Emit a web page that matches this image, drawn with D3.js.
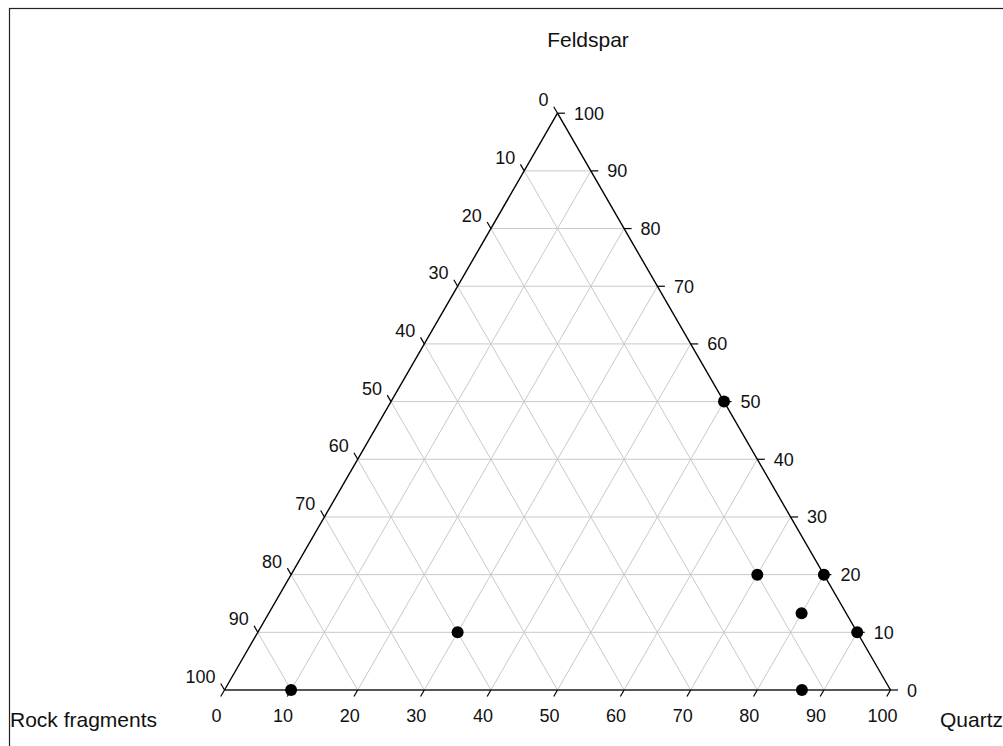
<!DOCTYPE html>
<html>
<head>
<meta charset="utf-8">
<script src="https://cdn.jsdelivr.net/npm/d3@7"></script>
<style>
  html, body { margin: 0; padding: 0; background: #fff; }
  svg { display: block; font-family: "Liberation Sans", Arial, sans-serif; }
</style>
</head>
<body>
<svg id="chart" width="1003" height="746"></svg>
<script>
// Sandstone composition samples (percent of each component)
const quartz   = [10, 30, 50, 70, 80, 80, 90, 86.7];
const feldspar = [0, 10, 50, 20, 20, 13.3, 10, 0];
const rock     = [90, 60, 0, 10, 0, 6.7, 0, 13.3];

const tickValues = [0, 10, 20, 30, 40, 50, 60, 70, 80, 90, 100];
const axisTitles = ["Feldspar", "Rock fragments", "Quartz"];

const svg = d3.select("#chart");

// Outer frame
svg.append("rect")
  .attr("x", 9.5).attr("y", 8.5)
  .attr("width", 1200).attr("height", 900)
  .attr("fill", "none").attr("stroke", "#222").attr("stroke-width", 1.2);

// Ternary projection built from two linear scales:
// horizontal position follows Quartz + Feldspar/2, vertical follows Feldspar.
const sx = d3.scaleLinear().domain([0, 100]).range([224.5, 890.5]);
const sy = d3.scaleLinear().domain([0, 100]).range([690, 113.2]);
const proj = (q, f) => [sx(q + f / 2), sy(f)];

const grid = svg.append("g")
  .attr("stroke", "#c9c9c9").attr("stroke-width", 1).attr("fill", "none");

tickValues.filter(k => k > 0 && k < 100).forEach(k => {
  // constant Feldspar
  let a = proj(0, k), b = proj(100 - k, k);
  grid.append("line").attr("x1", a[0]).attr("y1", a[1]).attr("x2", b[0]).attr("y2", b[1]);
  // constant Quartz
  a = proj(k, 0); b = proj(k, 100 - k);
  grid.append("line").attr("x1", a[0]).attr("y1", a[1]).attr("x2", b[0]).attr("y2", b[1]);
  // constant Rock fragments
  a = proj(100 - k, 0); b = proj(0, 100 - k);
  grid.append("line").attr("x1", a[0]).attr("y1", a[1]).attr("x2", b[0]).attr("y2", b[1]);
});

// Triangle edges
const pR = proj(0, 0), pQ = proj(100, 0), pF = proj(0, 100);
svg.append("line").attr("x1", pR[0]).attr("y1", pR[1]).attr("x2", pQ[0]).attr("y2", pQ[1])
  .attr("stroke", "#555").attr("stroke-width", 2.2);
svg.append("line").attr("x1", pR[0]).attr("y1", pR[1]).attr("x2", pF[0]).attr("y2", pF[1])
  .attr("stroke", "#000").attr("stroke-width", 1.4);
svg.append("line").attr("x1", pQ[0]).attr("y1", pQ[1]).attr("x2", pF[0]).attr("y2", pF[1])
  .attr("stroke", "#000").attr("stroke-width", 1.4);

// Ticks and tick labels
const tl = 7.5;
const ticks = svg.append("g").attr("stroke", "#000").attr("stroke-width", 1.2);
const labels = svg.append("g").attr("font-size", 18).attr("fill", "#111");
const c60 = 0.5, s60 = Math.sqrt(3) / 2;

tickValues.forEach(k => {
  // Quartz along the base
  let p = proj(k, 0);
  ticks.append("line").attr("x1", p[0]).attr("y1", p[1])
    .attr("x2", p[0] - c60 * tl).attr("y2", p[1] + s60 * tl);
  labels.append("text").attr("x", p[0] - 8).attr("y", p[1] + 32)
    .attr("text-anchor", "middle").text(k);

  // Feldspar along the right edge
  p = proj(100 - k, k);
  ticks.append("line").attr("x1", p[0]).attr("y1", p[1])
    .attr("x2", p[0] + tl).attr("y2", p[1]);
  labels.append("text").attr("x", p[0] + 16.5).attr("y", p[1] + 6.5)
    .attr("text-anchor", "start").text(k);

  // Rock fragments along the left edge
  p = proj(0, 100 - k);
  ticks.append("line").attr("x1", p[0]).attr("y1", p[1])
    .attr("x2", p[0] - c60 * tl).attr("y2", p[1] - s60 * tl);
  labels.append("text").attr("x", p[0] - 9).attr("y", p[1] - 7)
    .attr("text-anchor", "end").text(k);
});

// Corner titles
const titles = svg.append("g").attr("font-size", 21).attr("fill", "#111");
titles.append("text").attr("x", 588).attr("y", 47).attr("text-anchor", "middle").text(axisTitles[0]);
titles.append("text").attr("x", 10).attr("y", 727).attr("text-anchor", "start").text(axisTitles[1]);
titles.append("text").attr("x", 940).attr("y", 727).attr("text-anchor", "start").text(axisTitles[2]);

// Sample points
const samples = quartz.map((q, i) => ({ q, f: feldspar[i], r: rock[i] }));
svg.append("g").selectAll("circle").data(samples).join("circle")
  .attr("cx", d => proj(d.q, d.f)[0])
  .attr("cy", d => proj(d.q, d.f)[1])
  .attr("r", 6).attr("fill", "#000");
</script>
</body>
</html>
